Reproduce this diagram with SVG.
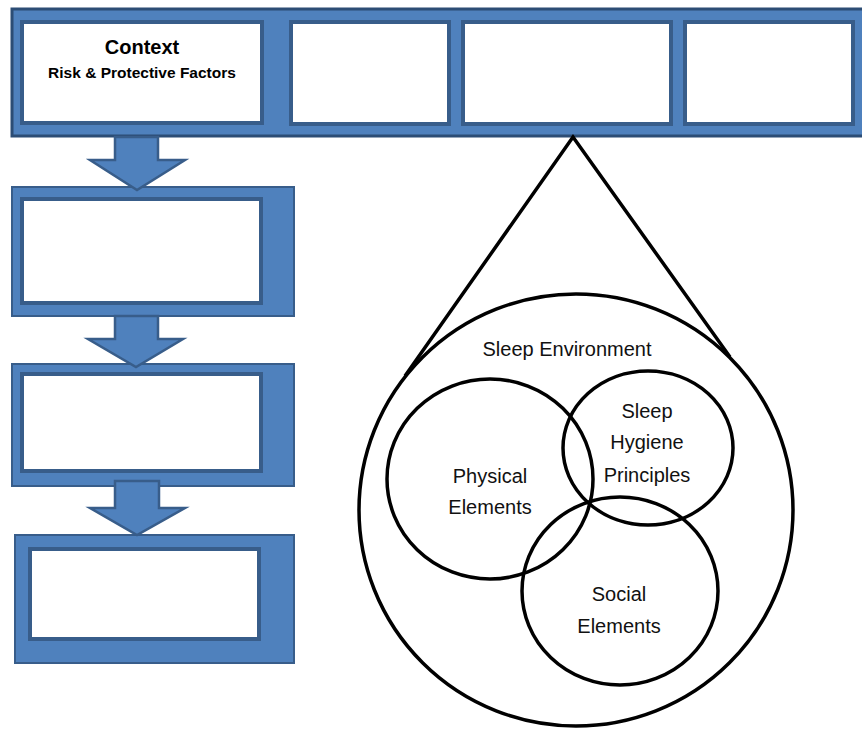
<svg xmlns="http://www.w3.org/2000/svg" width="862" height="729" viewBox="0 0 862 729">
  <style>
    .band { fill: #4F81BD; stroke: #2C4D75; stroke-width: 3; }
    .panel { fill: #4F81BD; stroke: #385D8A; stroke-width: 2; }
    .slot { fill: #FFFFFF; stroke: #385D8A; stroke-width: 4; }
    .arrow { fill: #4F81BD; stroke: #385D8A; stroke-width: 2.5; stroke-linejoin: miter; }
    .ring { fill: none; stroke: #000000; stroke-width: 3.5; }
    .label { font-family: "Liberation Sans", Arial, sans-serif; font-size: 20px; fill: #111111; text-anchor: middle; }
    .title { font-family: "Liberation Sans", Arial, sans-serif; font-weight: bold; fill: #000000; text-anchor: middle; }
  </style>

  <rect width="862" height="729" fill="#FFFFFF"/>

  <!-- top banner with four slots -->
  <g id="banner">
    <rect class="band" x="12" y="9" width="860" height="127"/>
  </g>
  <g id="context">
    <rect class="slot" x="22" y="22" width="240" height="101"/>
    <text class="title" x="142" y="54" font-size="20">Context</text>
    <text class="title" x="142" y="78" font-size="15.5">Risk &amp; Protective Factors</text>
  </g>
  <g id="slot-2"><rect class="slot" x="291" y="22" width="158" height="102"/></g>
  <g id="slot-3"><rect class="slot" x="463" y="22" width="208" height="102"/></g>
  <g id="slot-4"><rect class="slot" x="685" y="22" width="168" height="102"/></g>

  <!-- left column of stages -->
  <g id="stage-1">
    <rect class="panel" x="12" y="187" width="282" height="129"/>
    <rect class="slot" x="22" y="199" width="239" height="104"/>
  </g>
  <g id="stage-2">
    <rect class="panel" x="12" y="364" width="282" height="122"/>
    <rect class="slot" x="22" y="374" width="239" height="97"/>
  </g>
  <g id="stage-3">
    <rect class="panel" x="15" y="535" width="279" height="128"/>
    <rect class="slot" x="30" y="549" width="229" height="90"/>
  </g>

  <!-- flow arrows and zoom callout -->
  <g id="connectors">
    <polygon class="arrow" points="115,137 158,137 158,160 185,160 137,190 90,160 115,160"/>
    <polygon class="arrow" points="115,316 158,316 158,339 183,339 136,367 88,339 115,339"/>
    <polygon class="arrow" points="115,481 159,481 159,508 185,508 137,535 90,508 115,508"/>
    <polyline fill="none" stroke="#000000" stroke-width="3.5" stroke-linejoin="miter" points="405,376 573,137 730,357"/>
  </g>

  <!-- sleep environment venn -->
  <g id="sleep-environment">
    <ellipse class="ring" cx="576" cy="510" rx="217" ry="216"/>
    <text class="label" x="567" y="356" font-size="19">Sleep Environment</text>
  </g>
  <g id="physical-elements">
    <ellipse class="ring" cx="490" cy="479" rx="103" ry="100"/>
    <text class="label" x="490" y="483">Physical</text>
    <text class="label" x="490" y="514">Elements</text>
  </g>
  <g id="sleep-hygiene">
    <ellipse class="ring" cx="648" cy="448" rx="85" ry="77"/>
    <text class="label" x="647" y="418">Sleep</text>
    <text class="label" x="647" y="449">Hygiene</text>
    <text class="label" x="647" y="482">Principles</text>
  </g>
  <g id="social-elements">
    <ellipse class="ring" cx="620" cy="591" rx="98" ry="94"/>
    <text class="label" x="619" y="601">Social</text>
    <text class="label" x="619" y="633">Elements</text>
  </g>
</svg>
